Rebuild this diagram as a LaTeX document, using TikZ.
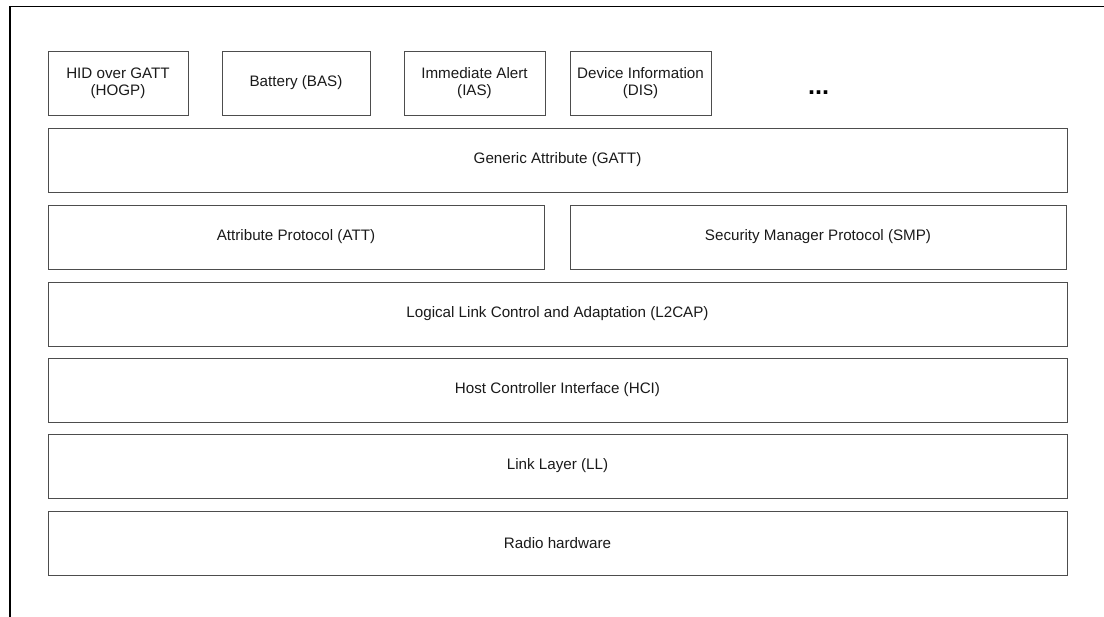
\documentclass[tikz,border=0pt]{standalone}
\usepackage{fontspec}
\setmainfont{Liberation Sans}
\usepackage{tikz}
\usetikzlibrary{positioning}
\definecolor{boxline}{HTML}{4D4D4D}
\definecolor{boxtext}{HTML}{1A1A1A}
\tikzset{
  svc/.style={rectangle, draw=boxline, line width=0.65pt, inner sep=0pt, outer sep=0pt,
              minimum width=3.5cm, minimum height=1.6cm, align=center,
              text=boxtext, font=\fontsize{10.8}{12.2}\selectfont},
  layer/.style={svc, minimum width=25.475cm},
  halflayer/.style={svc, minimum width=12.4cm},
  frame/.style={line width=1pt, color=black},
}
\begin{document}
\begin{tikzpicture}
  \useasboundingbox (0,0) rectangle (27.6,-15.425);
  \draw[frame] (27.6,-0.16) -- (0.25,-0.16) -- (0.25,-15.425);

  % profiles and services
  \node[svc, anchor=north west] (hogp) at (1.2,-1.275) {HID over GATT\\(HOGP)};
  \node[svc, minimum width=3.7cm, right=0.85cm of hogp] (bas) {Battery (BAS)};
  \node[svc, minimum width=3.525cm, right=0.85cm of bas] (ias) {Immediate Alert\\(IAS)};
  \node[svc, minimum width=3.525cm, right=0.625cm of ias] (dis) {Device Information\\(DIS)};
  \node[right=2.42cm of dis, yshift=-0.25cm, font=\fontsize{18}{18}\selectfont\bfseries, inner sep=0pt] (more) {...};

  % host / controller stack
  \node[layer, below=0.325cm of hogp.south west, anchor=north west] (gatt) {Generic Attribute (GATT)};
  \node[halflayer, below=0.325cm of gatt.south west, anchor=north west] (att) {Attribute Protocol (ATT)};
  \node[halflayer, right=0.65cm of att] (smp) {Security Manager Protocol (SMP)};
  \node[layer, below=0.325cm of att.south west, anchor=north west] (l2cap) {Logical Link Control and Adaptation (L2CAP)};
  \node[layer, below=0.3cm of l2cap] (hci) {Host Controller Interface (HCI)};
  \node[layer, below=0.3cm of hci] (ll) {Link Layer (LL)};
  \node[layer, below=0.325cm of ll] (radio) {Radio hardware};
\end{tikzpicture}
\end{document}
